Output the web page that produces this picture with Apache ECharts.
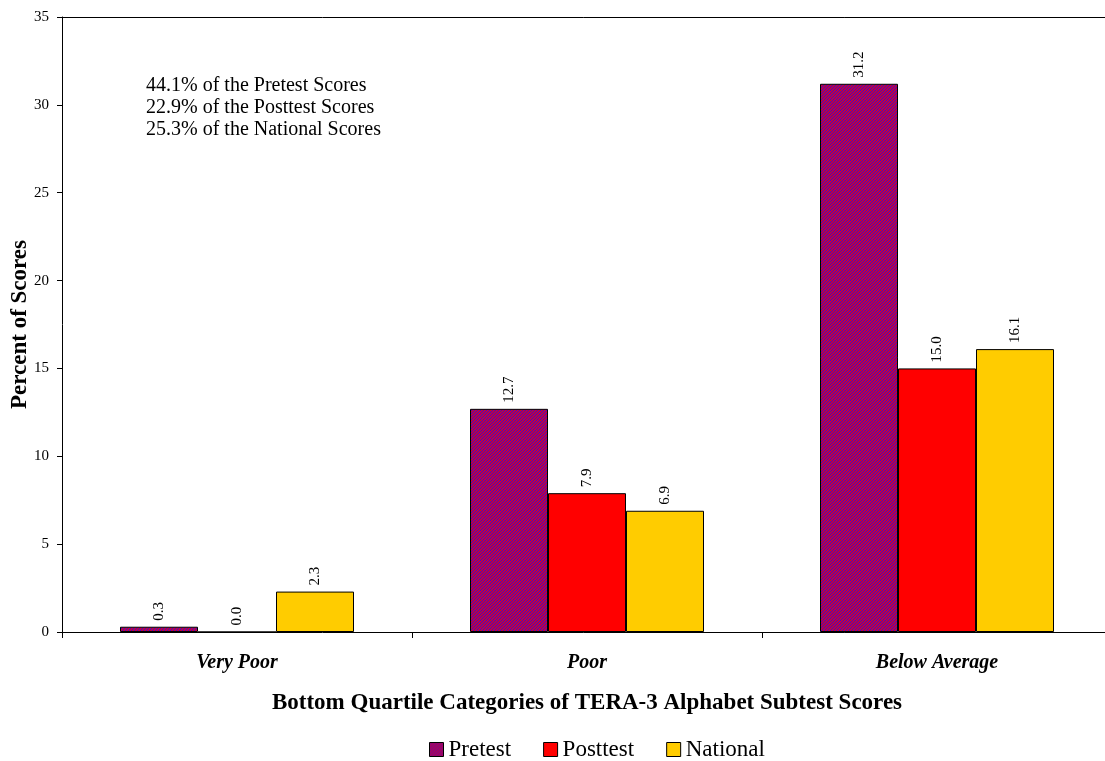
<!DOCTYPE html>
<html>
<head>
<meta charset="utf-8">
<script src="https://cdn.jsdelivr.net/npm/echarts@6/dist/echarts.min.js"></script>
<style>
  html, body { margin: 0; padding: 0; background: #fff; }
  #chart { width: 1105px; height: 761px; }
</style>
</head>
<body>
<div id="chart"></div>
<script>
const categories = ["Very Poor", "Poor", "Below Average"];
const pretest = [0.3, 12.7, 31.2];
const posttest = [0.0, 7.9, 15.0];
const national = [2.3, 6.9, 16.1];
const notes = [
  "44.1% of the Pretest Scores",
  "22.9% of the Posttest Scores",
  "25.3% of the National Scores"
];

const serif = "'Liberation Serif', 'DejaVu Serif', serif";

// hatched fill for the pretest bars (red with fine blue diagonals)
const makeHatch = () => {
  const c = document.createElement("canvas");
  c.width = 3;
  c.height = 3;
  const ctx = c.getContext("2d");
  ctx.fillStyle = "#c40040";
  ctx.fillRect(0, 0, 3, 3);
  ctx.fillStyle = "#4010c0";
  for (let i = 0; i < 3; i++) {
    ctx.fillRect(i, 2 - i, 1, 1);
  }
  return c;
};
const hatch = { image: makeHatch(), repeat: "repeat" };

const barLabel = {
  show: true,
  position: "top",
  rotate: 90,
  align: "left",
  verticalAlign: "middle",
  distance: 6,
  fontFamily: serif,
  fontSize: 15,
  color: "#000",
  formatter: p => p.value.toFixed(1)
};

const chart = echarts.init(document.getElementById("chart"));
chart.setOption({
  animation: false,
  textStyle: { fontFamily: serif, color: "#000" },
  grid: { left: 62, top: 17, width: 1050, height: 615, containLabel: false, outerBoundsMode: "none" },
  legend: {
    top: 733,
    left: 424,
    itemWidth: 14,
    itemHeight: 14,
    itemGap: 32,
    icon: "rect",
    itemStyle: { borderColor: "#000", borderWidth: 1 },
    textStyle: { fontFamily: serif, fontSize: 23, color: "#000" },
    data: ["Pretest", "Posttest", "National"]
  },
  xAxis: [
    {
      type: "category",
      data: categories,
      name: "Bottom Quartile Categories of TERA-3 Alphabet Subtest Scores",
      nameLocation: "middle",
      nameGap: 60,
      nameTextStyle: { fontFamily: serif, fontSize: 23, fontWeight: "bold", color: "#000" },
      axisLine: { lineStyle: { color: "#000", width: 1 } },
      axisTick: { show: true, length: 6, alignWithLabel: false, lineStyle: { color: "#000" } },
      axisLabel: {
        margin: 21,
        fontFamily: serif,
        fontSize: 20,
        fontWeight: "bold",
        fontStyle: "italic",
        color: "#000"
      }
    },
    {
      type: "category",
      position: "top",
      data: categories,
      axisLine: { lineStyle: { color: "#000", width: 1 } },
      axisTick: { show: false },
      axisLabel: { show: false }
    }
  ],
  yAxis: {
    type: "value",
    min: 0,
    max: 35,
    interval: 5,
    name: "Percent of Scores",
    nameLocation: "middle",
    nameGap: 30,
    nameMoveOverlap: false,
    nameTextStyle: { fontFamily: serif, fontSize: 23, fontWeight: "bold", color: "#000" },
    axisLine: { show: true, lineStyle: { color: "#000", width: 1 } },
    axisTick: { show: true, length: 5, lineStyle: { color: "#000" } },
    splitLine: { show: false },
    axisLabel: { margin: 13, fontFamily: serif, fontSize: 15, color: "#000" }
  },
  series: [
    {
      name: "Pretest",
      type: "bar",
      data: pretest,
      barWidth: 78,
      barGap: "0%",
      itemStyle: { color: hatch, borderColor: "#000", borderWidth: 1 },
      label: barLabel
    },
    {
      name: "Posttest",
      type: "bar",
      data: posttest,
      barWidth: 78,
      barGap: "0%",
      itemStyle: { color: "#ff0000", borderColor: "#000", borderWidth: 1 },
      label: barLabel
    },
    {
      name: "National",
      type: "bar",
      data: national,
      barWidth: 78,
      barGap: "0%",
      itemStyle: { color: "#ffcc00", borderColor: "#000", borderWidth: 1 },
      label: barLabel
    }
  ],
  graphic: [
    {
      type: "text",
      left: 146,
      top: 75,
      style: {
        text: notes.join("\n"),
        fontFamily: serif,
        fontSize: 20,
        lineHeight: 22,
        fill: "#000"
      }
    }
  ]
});
window.addEventListener("resize", chart.resize);
</script>
</body>
</html>
